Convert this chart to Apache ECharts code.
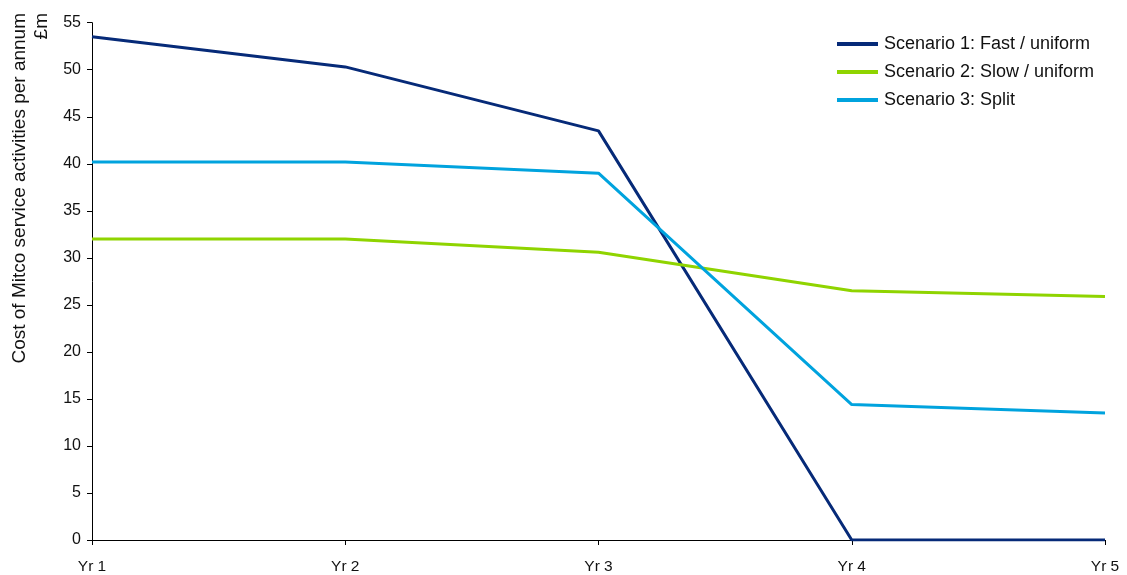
<!DOCTYPE html>
<html>
<head>
<meta charset="utf-8">
<script src="https://cdn.jsdelivr.net/npm/echarts@6/dist/echarts.min.js"></script>
<style>
  html, body { margin: 0; padding: 0; background: #ffffff; }
  #chart { width: 1127px; height: 575px; }
</style>
</head>
<body>
<div id="chart"></div>
<script>
// Years on the category axis
const years = ['Yr 1', 'Yr 2', 'Yr 3', 'Yr 4', 'Yr 5'];

// Annual cost of Mitco service activities (£m) per scenario
const fastUniform = [53.5, 50.3, 43.5, 0, 0];
const slowUniform = [32.0, 32.0, 30.6, 26.5, 25.9];
const split = [40.2, 40.2, 39.0, 14.4, 13.5];

const seriesNames = [
  'Scenario 1: Fast / uniform',
  'Scenario 2: Slow / uniform',
  'Scenario 3: Split'
];
const seriesColors = ['#062a78', '#8fd400', '#00a3de'];

const FONT = '"Liberation Sans", Arial, sans-serif';

const chart = echarts.init(document.getElementById('chart'), null, { renderer: 'canvas' });

function lineSeries(name, data, color) {
  return {
    name: name,
    type: 'line',
    data: data,
    symbol: 'none',
    smooth: false,
    lineStyle: { color: color, width: 3 },
    itemStyle: { color: color },
    emphasis: { disabled: true }
  };
}

chart.setOption({
  animation: false,
  backgroundColor: '#ffffff',
  textStyle: { fontFamily: FONT },
  grid: { left: 92, right: 22, top: 22.7, bottom: 32, containLabel: false },
  legend: {
    orient: 'vertical',
    left: 832,
    top: 30,
    icon: 'rect',
    itemWidth: 41,
    itemHeight: 4,
    itemGap: 10,
    textStyle: { fontFamily: FONT, fontSize: 18, color: '#111', lineHeight: 18, padding: [0, 0, 0, 1] },
    data: seriesNames
  },
  xAxis: {
    type: 'category',
    data: years,
    boundaryGap: false,
    axisLine: { lineStyle: { color: '#000', width: 1 } },
    axisTick: { show: true, alignWithLabel: true, length: 5, lineStyle: { color: '#000' } },
    axisLabel: { fontFamily: FONT, fontSize: 15.5, color: '#111', margin: 19 },
    splitLine: { show: false }
  },
  yAxis: {
    type: 'value',
    min: 0,
    max: 55,
    interval: 5,
    axisLine: { show: true, lineStyle: { color: '#000', width: 1 } },
    axisTick: { show: true, length: 5, lineStyle: { color: '#000' } },
    axisLabel: { fontFamily: FONT, fontSize: 16, color: '#111', margin: 11 },
    splitLine: { show: false }
  },
  graphic: [
    {
      type: 'text',
      x: 19.5,
      y: 13,
      rotation: Math.PI / 2,
      style: {
        text: 'Cost of Mitco service activities per annum',
        font: '19px ' + FONT,
        fill: '#111',
        align: 'right',
        verticalAlign: 'middle'
      }
    },
    {
      type: 'text',
      x: 41.5,
      y: 13,
      rotation: Math.PI / 2,
      style: {
        text: '£m',
        font: '19px ' + FONT,
        fill: '#111',
        align: 'right',
        verticalAlign: 'middle'
      }
    }
  ],
  series: [
    lineSeries(seriesNames[0], fastUniform, seriesColors[0]),
    lineSeries(seriesNames[1], slowUniform, seriesColors[1]),
    lineSeries(seriesNames[2], split, seriesColors[2])
  ]
});
</script>
</body>
</html>
